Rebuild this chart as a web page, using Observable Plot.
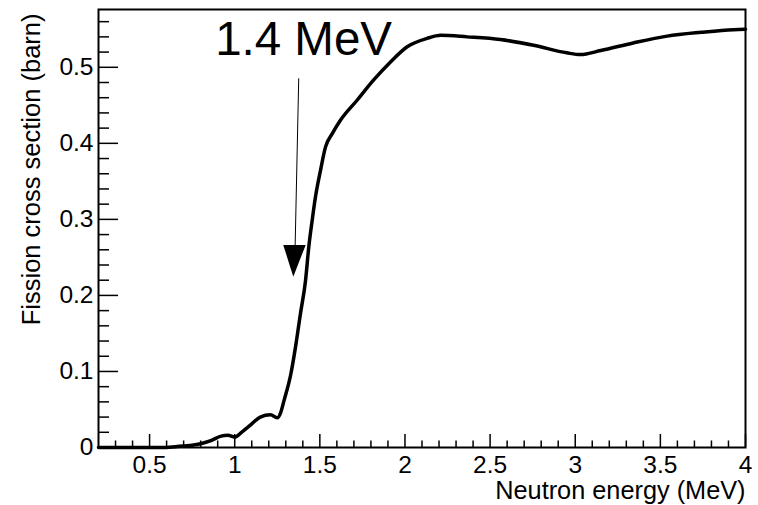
<!DOCTYPE html>
<html>
<head>
<meta charset="utf-8">
<script src="https://cdn.jsdelivr.net/npm/d3@7"></script>
<script src="https://cdn.jsdelivr.net/npm/@observablehq/plot@0.6"></script>
<style>
  html, body { margin: 0; padding: 0; background: #fff; }
</style>
</head>
<body>
<div id="chart"></div>
<script>
// Neutron energy (MeV) and fission cross section (barn)
const energy = [0.2, 0.4, 0.6, 0.65, 0.7, 0.75, 0.8, 0.86, 0.92, 0.96, 1.0, 1.04, 1.09, 1.15, 1.21, 1.25, 1.27, 1.29, 1.33, 1.357, 1.386, 1.416, 1.435, 1.455, 1.474, 1.504, 1.533, 1.573, 1.62, 1.72, 1.815, 1.915, 2.013, 2.13, 2.21, 2.365, 2.56, 2.755, 2.95, 3.03, 3.15, 3.34, 3.54, 3.74, 3.93, 4.0];
const sigma  = [0, 0, 0, 0.001, 0.002, 0.003, 0.005, 0.009, 0.015, 0.016, 0.0136, 0.020, 0.029, 0.040, 0.043, 0.039, 0.046, 0.062, 0.097, 0.132, 0.176, 0.2197, 0.2636, 0.2987, 0.329, 0.3645, 0.395, 0.4128, 0.430, 0.457, 0.483, 0.507, 0.527, 0.538, 0.542, 0.540, 0.5365, 0.529, 0.519, 0.5167, 0.522, 0.532, 0.541, 0.546, 0.5495, 0.55];

// Tick values
const xMajor = [0.5, 1, 1.5, 2, 2.5, 3, 3.5, 4];
const xMinor = [0.3, 0.4, 0.6, 0.7, 0.8, 0.9, 1.1, 1.2, 1.3, 1.4, 1.6, 1.7, 1.8, 1.9, 2.1, 2.2, 2.3, 2.4, 2.6, 2.7, 2.8, 2.9, 3.1, 3.2, 3.3, 3.4, 3.6, 3.7, 3.8, 3.9];
const yMajor = [0, 0.1, 0.2, 0.3, 0.4, 0.5];
const yMinor = [0.02, 0.04, 0.06, 0.08, 0.12, 0.14, 0.16, 0.18, 0.22, 0.24, 0.26, 0.28, 0.32, 0.34, 0.36, 0.38, 0.42, 0.44, 0.46, 0.48, 0.52, 0.54, 0.56];
const xLabels = ["0.5", "1", "1.5", "2", "2.5", "3", "3.5", "4"];
const yLabels = ["0", "0.1", "0.2", "0.3", "0.4", "0.5"];

// Annotation
const annotationText = ["1.4 MeV"];
const annotationPos = [0.885, 0.5158];      // [energy, sigma] of text baseline start
const arrowStart = [1.376, 0.4855];         // shaft top
const arrowHeadBase = [1.355, 0.2658];      // shaft bottom / head base centre
const arrowTip = [1.347, 0.224];            // head tip
const arrowHeadSpan = [1.288, 1.42];        // head base extent in energy

const xTitle = "Neutron energy (MeV)";
const yTitle = "Fission cross section (barn)";

const data = energy.map((e, i) => ({e, s: sigma[i]}));
const headData = [
  {y: arrowTip[1], x1: arrowTip[0], x2: arrowTip[0]},
  {y: arrowHeadBase[1], x1: arrowHeadSpan[0], x2: arrowHeadSpan[1]}
];

const chart = Plot.plot({
  width: 758,
  height: 505,
  marginLeft: 98,
  marginRight: 13,
  marginTop: 9,
  marginBottom: 58,
  x: {domain: [0.2, 4], label: null},
  y: {domain: [0, 0.576], label: null},
  style: {fontFamily: "'Liberation Sans', Arial, Helvetica, sans-serif", fontSize: "24px", background: "white", color: "black"},
  marks: [
    Plot.axisY(yMajor, {tickSize: -20, tickPadding: 25, tickFormat: (d, i) => yLabels[i], strokeWidth: 1.5, fontSize: 24.5, label: null}),
    Plot.axisY(yMinor, {tickSize: -11, tickFormat: () => "", strokeWidth: 1.5, label: null}),
    Plot.axisX(xMajor, {tickSize: -13, tickPadding: 21, tickFormat: (d, i) => xLabels[i], strokeWidth: 1.5, fontSize: 24.5, label: null}),
    Plot.axisX(xMinor, {tickSize: -6.5, tickFormat: () => "", strokeWidth: 1.5, label: null}),
    Plot.frame({strokeWidth: 2}),
    Plot.line(data, {x: "e", y: "s", strokeWidth: 3.5, curve: "monotone-x", strokeLinejoin: "round"}),
    Plot.link([0], {x1: arrowStart[0], y1: arrowStart[1], x2: arrowHeadBase[0], y2: arrowHeadBase[1], strokeWidth: 1}),
    Plot.areaX(headData, {y: "y", x1: "x1", x2: "x2", fill: "black", curve: "linear"}),
    Plot.text(annotationText, {x: annotationPos[0], y: annotationPos[1], text: d => d, textAnchor: "start", lineAnchor: "bottom", fontSize: 47.5}),
    Plot.text([xTitle], {frameAnchor: "bottom-right", text: d => d, textAnchor: "end", lineAnchor: "bottom", dy: 51, fontSize: 25.3}),
    Plot.text([yTitle], {frameAnchor: "top-left", text: d => d, textAnchor: "end", lineAnchor: "middle", rotate: -90, dx: -67, dy: 4, fontSize: 25.5})
  ]
});
document.getElementById("chart").appendChild(chart);
</script>
</body>
</html>
